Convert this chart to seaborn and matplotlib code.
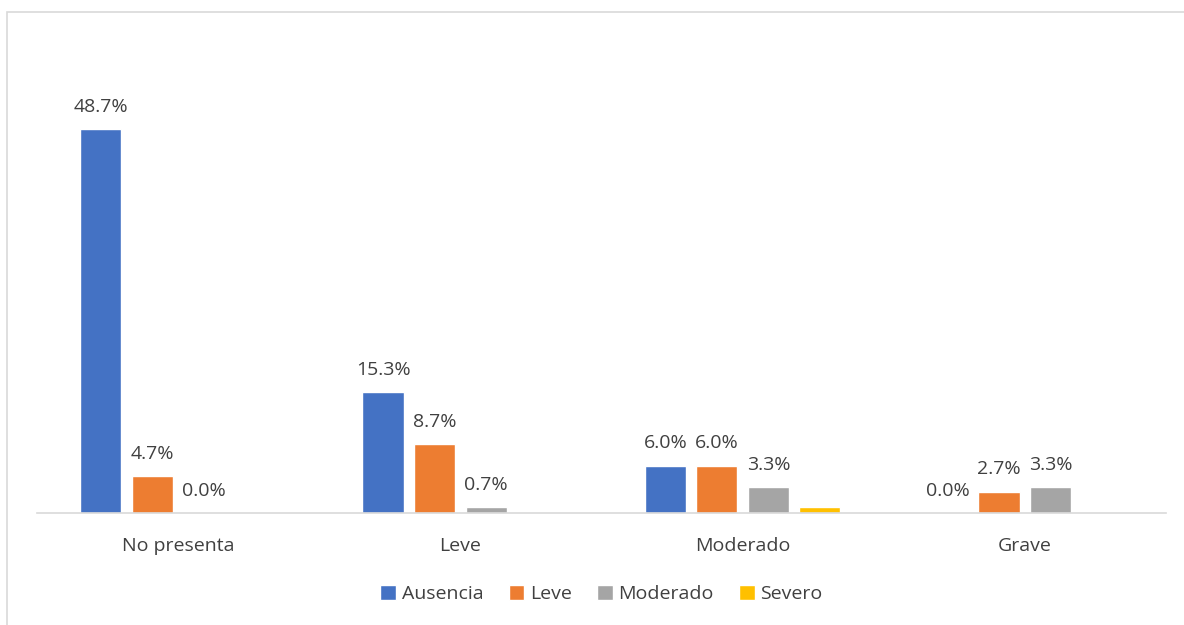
import matplotlib
matplotlib.use("Agg")
import matplotlib.pyplot as plt
import seaborn as sns
import pandas as pd
from matplotlib.patches import Rectangle

categories = ["No presenta", "Leve", "Moderado", "Grave"]
series = ["Ausencia", "Leve", "Moderado", "Severo"]
ausencia = [48.7, 15.3, 6.0, 0.0]
leve = [4.7, 8.7, 6.0, 2.7]
moderado = [0.0, 0.7, 3.3, 3.3]
severo = [0.0, 0.0, 0.7, 0.0]
labeled_series = ["Ausencia", "Leve", "Moderado"]
colors = ["#4472C4", "#ED7D31", "#A5A5A5", "#FFC000"]

values = {"Ausencia": ausencia, "Leve": leve, "Moderado": moderado, "Severo": severo}
rows = []
for s in series:
    for c, v in zip(categories, values[s]):
        rows.append({"categoria": c, "serie": s, "valor": v})
df = pd.DataFrame(rows)

sns.set_theme(style="white")
plt.rcParams["font.family"] = ["Open Sans", "DejaVu Sans"]
text_color = "#404040"
fs = 14

fig = plt.figure(figsize=(11.84, 6.25), dpi=100)
ax = fig.add_axes([0.03125, 0.1792, 0.9535, 0.757])

sns.barplot(data=df, x="categoria", y="valor", hue="serie", order=categories,
            hue_order=series, palette=colors, width=0.73, gap=0.2,
            saturation=1, errorbar=None, legend=True, ax=ax)

ax.set_xlim(-0.5, 3.5)
ax.set_ylim(0, 60)

# value labels above the bars
for container, s in zip(ax.containers, series):
    if s not in labeled_series:
        continue
    for bar, v in zip(container, values[s]):
        ax.annotate(f"{v:.1f}%", (bar.get_x() + bar.get_width() / 2, bar.get_height()),
                    xytext=(0, 12.5), textcoords="offset points", ha="center",
                    va="baseline", fontsize=fs, color=text_color)

for side in ["top", "right", "left"]:
    ax.spines[side].set_visible(False)
ax.spines["bottom"].set_color("#D9D9D9")
ax.spines["bottom"].set_linewidth(1.2)
ax.set_yticks([])
ax.set_xlabel("")
ax.set_ylabel("")
ax.tick_params(axis="x", length=0, pad=17, labelsize=fs, labelcolor=text_color)

handles, labels = ax.get_legend_handles_labels()
ax.legend(handles, labels, loc="center", bbox_to_anchor=(0.5, -0.172),
          ncol=4, frameon=False, fontsize=fs, handlelength=0.8, handleheight=0.8,
          handletextpad=0.3, columnspacing=1.3, labelcolor=text_color)

# chart area frame
fig.patches.append(Rectangle((7 / 1184, -0.1), 1.2, 1 - 12 / 625 + 0.1,
                             transform=fig.transFigure, fill=False,
                             edgecolor="#D9D9D9", linewidth=1.2))

fig.savefig("out.png", dpi=100)
